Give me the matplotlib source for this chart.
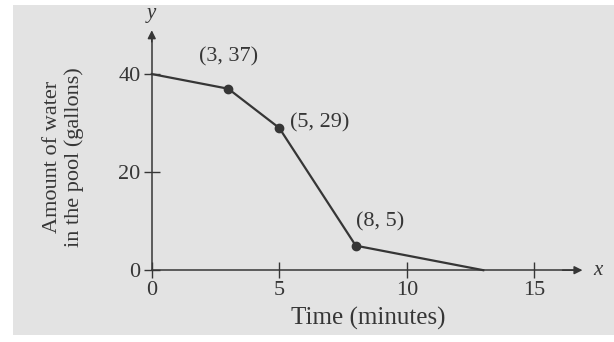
import matplotlib.pyplot as plt
from matplotlib.patches import Rectangle

# values
time_min = [0, 3, 5, 8, 13]
water_gal = [40, 37, 29, 5, 0]
marked_x = [3, 5, 8]
marked_y = [37, 29, 5]
marked_lbl = ['(3, 37)', '(5, 29)', '(8, 5)']
xticks = [0, 5, 10, 15]
yticks = [0, 20, 40]

ink = '#363636'
paper = '#e3e3e3'
plt.rcParams['font.family'] = ['Liberation Serif', 'DejaVu Serif']

fig = plt.figure(figsize=(6.14, 3.42), dpi=100)
fig.patch.set_facecolor('white')
# the grey "photo" area
fig.patches.append(Rectangle((0.021, 0.02), 0.979, 0.965, transform=fig.transFigure,
                             facecolor=paper, edgecolor='none', zorder=-5))

ax = fig.add_axes([0.2264, 0.1813, 0.7476, 0.7456])
ax.set_zorder(2)
ax.set_facecolor('none')
ax.set_xlim(-0.5, 17.5)
ax.set_ylim(-2, 50)

for s in ['top', 'right']:
    ax.spines[s].set_visible(False)
ax.spines['left'].set_position(('data', 0))
ax.spines['bottom'].set_position(('data', 0))
ax.spines['left'].set_bounds(0, 48)
ax.spines['bottom'].set_bounds(0, 16.5)
for s in ['left', 'bottom']:
    ax.spines[s].set_color(ink)
    ax.spines[s].set_linewidth(1.1)

# arrow heads
ax.annotate('', xy=(0, 49.5), xytext=(0, 46), arrowprops=dict(arrowstyle='-|>', color=ink, lw=1.1, mutation_scale=12))
ax.annotate('', xy=(17.0, 0), xytext=(16, 0), arrowprops=dict(arrowstyle='-|>', color=ink, lw=1.1, mutation_scale=12))
ax.text(0, 50.5, 'y', style='italic', fontsize=15, color=ink, ha='center', va='bottom')
ax.text(17.3, 0, 'x', style='italic', fontsize=15, color=ink, ha='left', va='center')

ax.set_xticks(xticks)
ax.set_yticks(yticks)
ax.tick_params(direction='inout', length=12, width=1.0, color=ink, labelcolor=ink, labelsize=16, pad=2)

ax.plot(time_min, water_gal, color=ink, lw=1.6, zorder=3)
ax.plot(marked_x, marked_y, 'o', color=ink, ms=6, zorder=4)

offsets = [(0, 16, 'center', 'bottom'), (8, 4, 'left', 'center'), (0, 10, 'left', 'bottom')]
for x, y, lbl, (dx, dy, ha, va) in zip(marked_x, marked_y, marked_lbl, offsets):
    ax.annotate(lbl, (x, y), xytext=(dx, dy), textcoords='offset points', ha=ha, va=va,
                fontsize=16, color=ink)

fig.text(0.60, 0.07, 'Time (minutes)', fontsize=18, color=ink, ha='center', va='center')
fig.text(0.103, 0.54, 'Amount of water\nin the pool (gallons)', fontsize=16, color=ink,
         rotation=90, ha='center', va='center', linespacing=1.15)

fig.savefig('out.png', dpi=100)
